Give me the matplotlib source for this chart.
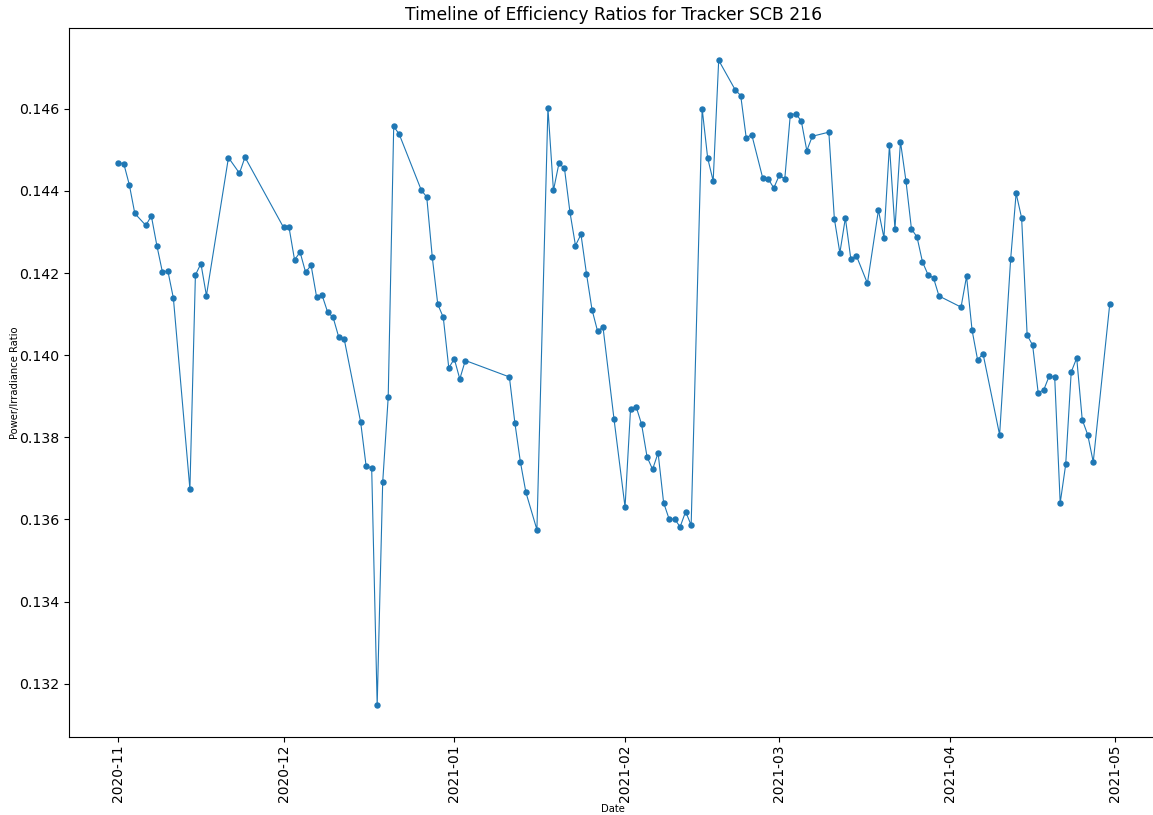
import matplotlib
matplotlib.use("Agg")
import matplotlib.pyplot as plt
import matplotlib.dates as mdates
import pandas as pd

dates = [
    "2020-11-01", "2020-11-02", "2020-11-03", "2020-11-04", "2020-11-06", "2020-11-07",
    "2020-11-08", "2020-11-09", "2020-11-10", "2020-11-11", "2020-11-14", "2020-11-15",
    "2020-11-16", "2020-11-17", "2020-11-21", "2020-11-23", "2020-11-24",
    "2020-12-01", "2020-12-02", "2020-12-03", "2020-12-04", "2020-12-05", "2020-12-06",
    "2020-12-07", "2020-12-08", "2020-12-09", "2020-12-10", "2020-12-11", "2020-12-12",
    "2020-12-15", "2020-12-16", "2020-12-17", "2020-12-18", "2020-12-19", "2020-12-20",
    "2020-12-21", "2020-12-22", "2020-12-26", "2020-12-27", "2020-12-28", "2020-12-29",
    "2020-12-30", "2020-12-31", "2021-01-01", "2021-01-02", "2021-01-03",
    "2021-01-11", "2021-01-12", "2021-01-13", "2021-01-14", "2021-01-16", "2021-01-18",
    "2021-01-19", "2021-01-20", "2021-01-21", "2021-01-22", "2021-01-23", "2021-01-24",
    "2021-01-25", "2021-01-26", "2021-01-27", "2021-01-28", "2021-01-30",
    "2021-02-01", "2021-02-02", "2021-02-03", "2021-02-04", "2021-02-05", "2021-02-06",
    "2021-02-07", "2021-02-08", "2021-02-09", "2021-02-10", "2021-02-11", "2021-02-12",
    "2021-02-13", "2021-02-15", "2021-02-16", "2021-02-17", "2021-02-18", "2021-02-21",
    "2021-02-22", "2021-02-23", "2021-02-24", "2021-02-26", "2021-02-27", "2021-02-28",
    "2021-03-01", "2021-03-02", "2021-03-03", "2021-03-04", "2021-03-05", "2021-03-06",
    "2021-03-07", "2021-03-10", "2021-03-11", "2021-03-12", "2021-03-13", "2021-03-14",
    "2021-03-15", "2021-03-17", "2021-03-19", "2021-03-20", "2021-03-21", "2021-03-22",
    "2021-03-23", "2021-03-24", "2021-03-25", "2021-03-26", "2021-03-27", "2021-03-28",
    "2021-03-29", "2021-03-30", "2021-04-03", "2021-04-04", "2021-04-05", "2021-04-06",
    "2021-04-07", "2021-04-10", "2021-04-12", "2021-04-13", "2021-04-14", "2021-04-15",
    "2021-04-16", "2021-04-17", "2021-04-18", "2021-04-19", "2021-04-20", "2021-04-21",
    "2021-04-22", "2021-04-23", "2021-04-24", "2021-04-25", "2021-04-26", "2021-04-27",
    "2021-04-30",
]

ratios = [
    0.14469, 0.14466, 0.14415, 0.14345, 0.14316, 0.14339,
    0.14267, 0.14203, 0.14205, 0.14139, 0.13674, 0.14195,
    0.14223, 0.14145, 0.14481, 0.14443, 0.14482,
    0.14311, 0.14311, 0.14232, 0.14251, 0.14202, 0.14219,
    0.14142, 0.14146, 0.14105, 0.14092, 0.14045, 0.14040,
    0.13837, 0.13729, 0.13726, 0.13148, 0.13690, 0.13897,
    0.14557, 0.14538, 0.14402, 0.14385, 0.14239, 0.14124,
    0.14092, 0.13969, 0.13991, 0.13942, 0.13987,
    0.13947, 0.13835, 0.13740, 0.13666, 0.13575, 0.14602,
    0.14401, 0.14467, 0.14455, 0.14348, 0.14267, 0.14294,
    0.14198, 0.14111, 0.14059, 0.14068, 0.13844,
    0.13630, 0.13870, 0.13875, 0.13832, 0.13752, 0.13722,
    0.13762, 0.13641, 0.13601, 0.13601, 0.13582, 0.13619,
    0.13586, 0.14600, 0.14480, 0.14424, 0.14718, 0.14646,
    0.14632, 0.14529, 0.14537, 0.14431, 0.14429, 0.14407,
    0.14438, 0.14429, 0.14585, 0.14588, 0.14570, 0.14498,
    0.14533, 0.14543, 0.14332, 0.14249, 0.14334, 0.14233,
    0.14242, 0.14175, 0.14353, 0.14286, 0.14511, 0.14307,
    0.14520, 0.14424, 0.14307, 0.14288, 0.14227, 0.14196,
    0.14188, 0.14144, 0.14117, 0.14192, 0.14061, 0.13989,
    0.14003, 0.13806, 0.14233, 0.14394, 0.14334, 0.14049,
    0.14024, 0.13909, 0.13915, 0.13949, 0.13947, 0.13640,
    0.13734, 0.13959, 0.13993, 0.13843, 0.13806, 0.13740,
    0.14125,
]

title = "Timeline of Efficiency Ratios for Tracker SCB 216"
x_label = "Date"
y_label = "Power/Irradiance Ratio"

x = pd.to_datetime(dates)

fig = plt.figure(figsize=(11.53, 8.15), dpi=100)
ax = fig.add_axes([0.0596, 0.0953, 0.9459, 0.8703])
ax.plot(x, ratios, marker="o", markersize=3.6, linewidth=0.8, color="#1f77b4")

ax.xaxis.set_major_locator(mdates.MonthLocator())
ax.xaxis.set_major_formatter(mdates.DateFormatter("%Y-%m"))
ax.tick_params(axis="x", labelsize=10, rotation=90, pad=1.5)
ax.tick_params(axis="y", labelsize=10.2)
ax.set_yticks([0.132, 0.134, 0.136, 0.138, 0.140, 0.142, 0.144, 0.146])

ax.set_title(title, fontsize=12.3)
ax.set_xlabel(x_label, fontsize=7.2)
ax.set_ylabel(y_label, fontsize=7.2)
ax.xaxis.set_label_coords(0.499, -0.0945)
ax.yaxis.set_label_coords(-0.045, 0.5)

fig.savefig("out.png", dpi=100)
